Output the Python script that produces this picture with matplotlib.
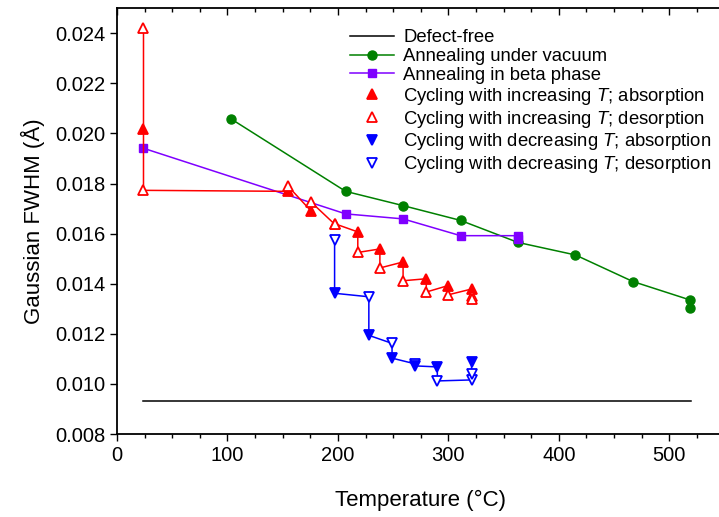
import matplotlib
matplotlib.use("Agg")
import matplotlib.pyplot as plt
from matplotlib.ticker import MultipleLocator, FormatStrFormatter
from matplotlib.lines import Line2D, TICKDOWN

plt.rcParams['font.family'] = ['Liberation Sans', 'DejaVu Sans']
plt.rcParams['mathtext.fontset'] = 'custom'
plt.rcParams['mathtext.rm'] = 'Liberation Sans'
plt.rcParams['mathtext.it'] = 'Liberation Sans:italic'

# defect-free reference level
defect_T = [24, 520]
defect_val = [0.00932, 0.00932]

# annealing under vacuum
vac_T = [103, 207, 259, 311, 363, 415, 467, 519, 519]
vac_val = [0.02059, 0.01769, 0.01712, 0.01653, 0.01565, 0.01515, 0.01409, 0.01335, 0.01305]

# annealing in beta phase
beta_T = [24, 207, 259, 311, 363, 363]
beta_val = [0.01941, 0.01679, 0.01659, 0.01592, 0.01592, 0.01578]

# cycling with increasing T (a = absorption, d = desorption), in drawing order
inc_T = [24, 24, 24, 155, 155, 176, 176, 197, 197, 218, 218, 238, 238,
         259, 259, 280, 280, 300, 300, 321, 321, 321]
inc_val = [0.02423, 0.02016, 0.01773, 0.01769, 0.01789, 0.01689, 0.01725,
           0.01638, 0.01640, 0.01607, 0.01525, 0.01539, 0.01463, 0.01487,
           0.01412, 0.01420, 0.01367, 0.01393, 0.01356, 0.01379, 0.01350, 0.01338]
inc_kind = ['d', 'a', 'd', 'a', 'd', 'a', 'd', 'a', 'd', 'a', 'd', 'a', 'd',
            'a', 'd', 'a', 'd', 'a', 'd', 'a', 'd', 'd']

# cycling with decreasing T
dec_T = [197, 197, 228, 228, 249, 249, 270, 270, 290, 290, 321, 321, 321]
dec_val = [0.01573, 0.01362, 0.01348, 0.01194, 0.01162, 0.01103, 0.01080,
           0.01072, 0.01068, 0.01012, 0.01016, 0.01038, 0.01088]
dec_kind = ['d', 'a', 'd', 'a', 'd', 'a', 'd', 'a', 'a', 'd', 'd', 'd', 'a']

GREEN = '#008000'
PURPLE = '#7F00FF'
RED = '#FF0000'
BLUE = '#0000FF'

fig = plt.figure(figsize=(7.19, 5.17), dpi=100)
ax = fig.add_axes([0.1627, 0.1605, 0.845, 0.8235])

ax.plot(defect_T, defect_val, color='black', lw=1.1)
ax.plot(vac_T, vac_val, color=GREEN, lw=1.1, marker='o', ms=6.5)
ax.plot(beta_T, beta_val, color=PURPLE, lw=1.1, marker='s', ms=6)

def cycling(T, val, kind, color, mk):
    ax.plot(T, val, color=color, lw=1.1)
    for t, v, k in zip(T, val, kind):
        face = color if k == 'a' else 'white'
        ax.plot(t, v, linestyle='none', marker=mk, ms=7, mfc=face,
                mec=color, mew=1.3)

cycling(inc_T, inc_val, inc_kind, RED, '^')
cycling(dec_T, dec_val, dec_kind, BLUE, 'v')

ax.set_xlim(0, 550)
ax.set_ylim(0.008, 0.025)
ax.xaxis.set_major_locator(MultipleLocator(100))
ax.xaxis.set_minor_locator(MultipleLocator(25))
ax.yaxis.set_major_locator(MultipleLocator(0.002))
ax.yaxis.set_major_formatter(FormatStrFormatter('%.3f'))

ax.tick_params(axis='x', which='both', direction='out', top=True, labelsize=14.5)
ax.tick_params(axis='x', which='major', length=5, width=1)
ax.tick_params(axis='x', which='minor', length=3, width=1)
ax.tick_params(axis='y', which='major', direction='out', length=5, width=1,
               labelsize=14.5)
for s in ax.spines.values():
    s.set_linewidth(1.3)

# top ticks point into the plot, bottom ones point out
for tk in ax.xaxis.get_major_ticks() + ax.xaxis.get_minor_ticks():
    tk.tick2line.set_marker(TICKDOWN)

ax.set_xlabel('Temperature (°C)', fontsize=16, labelpad=18)
ax.set_ylabel('Gaussian FWHM (Å)', fontsize=16, labelpad=7)

handles = [
    Line2D([], [], color='black', lw=1.1),
    Line2D([], [], color=GREEN, lw=1.1, marker='o', ms=6.5),
    Line2D([], [], color=PURPLE, lw=1.1, marker='s', ms=6),
    Line2D([], [], ls='none', marker='^', ms=7, color=RED, mew=1.3),
    Line2D([], [], ls='none', marker='^', ms=7, mfc='white', mec=RED, mew=1.3),
    Line2D([], [], ls='none', marker='v', ms=7, color=BLUE, mew=1.3),
    Line2D([], [], ls='none', marker='v', ms=7, mfc='white', mec=BLUE, mew=1.3),
]
labels = [
    'Defect-free',
    'Annealing under vacuum',
    'Annealing in beta phase',
    'Cycling with increasing $T$; absorption',
    'Cycling with increasing $T$; desorption',
    'Cycling with decreasing $T$; absorption',
    'Cycling with decreasing $T$; desorption',
]
ax.legend(handles, labels, loc='upper left', bbox_to_anchor=(0.383, 0.951),
          frameon=False, fontsize=13.3, handlelength=2.4, handletextpad=0.5,
          labelspacing=0.1, borderpad=0, borderaxespad=0)

fig.savefig('out.png', dpi=100)
